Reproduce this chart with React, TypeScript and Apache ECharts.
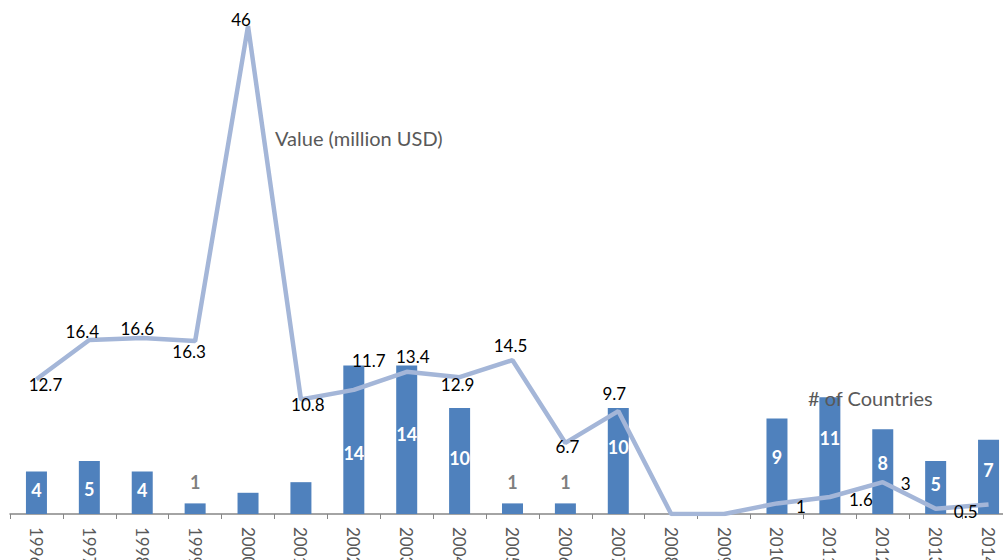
import React, { useEffect, useRef } from "react";
import * as echarts from "echarts";

const years = ["1996", "1997", "1998", "1999", "2000", "2001", "2002", "2003", "2004", "2005", "2006", "2007", "2008", "2009", "2010", "2011", "2012", "2013", "2014"];
const countries = [4, 5, 4, 1, 2, 3, 14, 14, 10, 1, 1, 10, 0, 0, 9, 11, 8, 5, 7];
const valueMillionUSD = [12.7, 16.4, 16.6, 16.3, 46, 10.8, 11.7, 13.4, 12.9, 14.5, 6.7, 9.7, 0, 0, 1, 1.6, 3, 0.5, 0.9];

// label placement tweaks (style only)
const barLabelShift = [-3, 2, -3, 0, 0, 0, 13, -6, -3, 0, 0, -14, 0, 0, -9, -18, -9, -3, -7];
const lineLabelOffsets: [number, number][] = [
  [9, 5], [-7, -9], [-5, -9], [-6, 10], [-7, -7], [7, 5], [15, -29], [6, -15], [-2, 7],
  [-2, -15], [2, 4], [-4, -18], [0, 0], [0, 0], [24, 3], [31, 2], [23, 1], [30, 3], [28, 3],
];

const FONT = "Lato, 'Open Sans', sans-serif";

export default function App() {
  const ref = useRef<HTMLDivElement>(null);
  useEffect(() => {
    if (!ref.current) return;
    const chart = echarts.init(ref.current, null, { renderer: "svg" });
    const barData = countries.map((v, i) => {
      if (v === 1) {
        return {
          value: v,
          label: { show: true, position: "top", distance: 12, color: "#7f7f7f" },
        };
      }
      if (v < 4) return { value: v, label: { show: false } };
      return {
        value: v,
        label: { show: true, position: "inside", offset: [0, barLabelShift[i]], color: "#ffffff" },
      };
    });
    const lineData = valueMillionUSD.map((v, i) => ({
      value: v,
      label: {
        show: v !== 0,
        position: "inside",
        offset: lineLabelOffsets[i],
      },
    }));
    chart.setOption({
      animation: false,
      backgroundColor: "#ffffff",
      grid: { left: 10, top: 26, width: 1005, bottom: 46, outerBoundsMode: "none", containLabel: false },
      xAxis: {
        type: "category",
        data: years,
        boundaryGap: true,
        axisLine: { show: true, lineStyle: { color: "#868686", width: 1.5 } },
        axisTick: { show: true, length: 5, lineStyle: { color: "#868686", width: 1 } },
        axisLabel: {
          rotate: -90,
          margin: 13,
          color: "#595959",
          fontSize: 17,
          fontFamily: FONT,
          interval: 0,
        },
      },
      yAxis: {
        type: "value",
        min: 0,
        max: 46,
        show: false,
        splitLine: { show: false },
      },
      series: [
        {
          name: "# of Countries",
          type: "bar",
          data: barData,
          barWidth: 21,
          itemStyle: { color: "#4f81bd" },
          label: { fontSize: 18, fontWeight: "bold", fontFamily: FONT },
          z: 2,
        },
        {
          name: "Value (million USD)",
          type: "line",
          data: lineData,
          symbol: "circle",
          symbolSize: 0.1,
          showSymbol: true,
          itemStyle: { color: "#a4b6d8" },
          lineStyle: { color: "#a4b6d8", width: 4.5 },
          label: { color: "#000000", fontSize: 17, fontFamily: FONT },
          z: 3,
        },
      ],
      graphic: [
        {
          type: "text",
          left: 275,
          top: 128,
          style: { text: "Value (million USD)", fill: "#595959", font: `20px ${FONT}` },
        },
        {
          type: "text",
          left: 808,
          top: 388,
          z: 10,
          style: { text: "# of Countries", fill: "#595959", font: `20px ${FONT}` },
        },
      ],
    });
    return () => chart.dispose();
  }, []);
  return (
    <div
      ref={ref}
      style={{ position: "absolute", left: 0, top: 0, width: 1003, height: 560 }}
    />
  );
}
